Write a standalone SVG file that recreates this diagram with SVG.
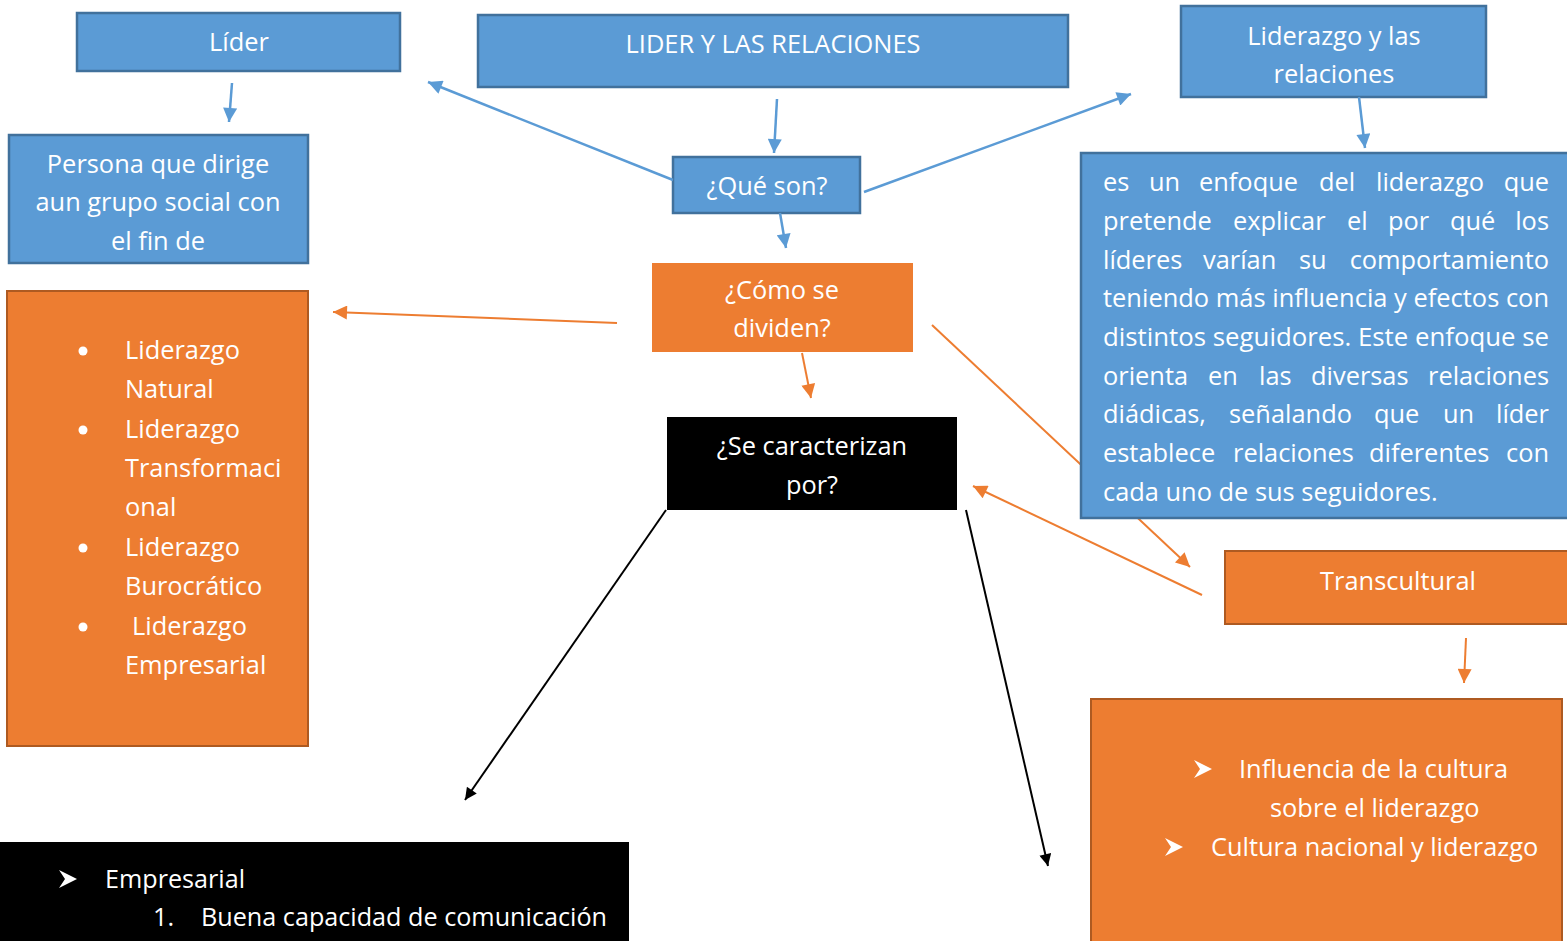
<svg xmlns="http://www.w3.org/2000/svg" width="1567" height="941" viewBox="0 0 1567 941">
<style>
.t{font-family:"Open Sans","Noto Sans","Liberation Sans",sans-serif;font-size:25.4px;fill:#fff}
.c{text-anchor:middle}
.blue{fill:#5B9BD5;stroke:#41719C;stroke-width:2.5}
.orange{fill:#ED7D31;stroke:#AE5A21;stroke-width:2}
.black{fill:#000}
.cb{stroke:#5B9BD5;stroke-width:2.5;fill:none;marker-end:url(#ab)}
.co{stroke:#ED7D31;stroke-width:2;fill:none;marker-end:url(#ao)}
.ck{stroke:#000;stroke-width:2;fill:none;marker-end:url(#ak)}
</style>
<defs>
<marker id="ab" viewBox="0 0 10 10" refX="10" refY="5" markerWidth="16" markerHeight="14" markerUnits="userSpaceOnUse" orient="auto"><path d="M0,0 L10,5 L0,10 Z" fill="#5B9BD5"/></marker>
<marker id="ao" viewBox="0 0 10 10" refX="10" refY="5" markerWidth="16" markerHeight="14" markerUnits="userSpaceOnUse" orient="auto"><path d="M0,0 L10,5 L0,10 Z" fill="#ED7D31"/></marker>
<marker id="ak" viewBox="0 0 10 10" refX="10" refY="5" markerWidth="16" markerHeight="12" markerUnits="userSpaceOnUse" orient="auto"><path d="M0,0 L10,5 L0,10 Z" fill="#000"/></marker>
</defs>
<rect width="1567" height="941" fill="#fff"/>

<g id="connectors-back">
<line class="co" x1="932" y1="325" x2="1190" y2="567"/>
</g>

<g id="n-lider"><rect class="blue" x="77" y="13" width="323" height="58"/><text class="t c" x="239" y="51">Líder</text></g>
<g id="n-main"><rect class="blue" x="478" y="15" width="590" height="72"/><text class="t c" x="773" y="53">LIDER Y LAS RELACIONES</text></g>
<g id="n-lr"><rect class="blue" x="1181" y="6" width="305" height="91"/><text class="t c" x="1334" y="45">Liderazgo y las</text><text class="t c" x="1334" y="83">relaciones</text></g>
<g id="n-persona"><rect class="blue" x="9" y="135" width="299" height="128"/><text class="t c" x="158" y="173">Persona que dirige</text><text class="t c" x="158" y="211">aun grupo social con</text><text class="t c" x="158" y="250">el fin de</text></g>
<g id="n-que"><rect class="blue" x="673" y="157" width="187" height="56"/><text class="t c" x="767" y="195">¿Qué son?</text></g>
<g id="n-def"><rect class="blue" x="1081" y="153" width="490" height="365"/>
<text class="t" y="191"><tspan x="1103">es</tspan><tspan x="1149">un</tspan><tspan x="1199">enfoque</tspan><tspan x="1319">del</tspan><tspan x="1376">liderazgo</tspan><tspan x="1549" text-anchor="end">que</tspan></text>
<text class="t" y="230"><tspan x="1103">pretende</tspan><tspan x="1233">explicar</tspan><tspan x="1347">el</tspan><tspan x="1388">por</tspan><tspan x="1450">qué</tspan><tspan x="1549" text-anchor="end">los</tspan></text>
<text class="t" y="269"><tspan x="1103">líderes</tspan><tspan x="1203">varían</tspan><tspan x="1299">su</tspan><tspan x="1549" text-anchor="end">comportamiento</tspan></text>
<text class="t" x="1103" y="307" textLength="446" lengthAdjust="spacingAndGlyphs">teniendo más influencia y efectos con</text>
<text class="t" x="1103" y="346" textLength="446" lengthAdjust="spacingAndGlyphs">distintos seguidores. Este enfoque se</text>
<text class="t" y="385"><tspan x="1103">orienta</tspan><tspan x="1208">en</tspan><tspan x="1259">las</tspan><tspan x="1311">diversas</tspan><tspan x="1549" text-anchor="end">relaciones</tspan></text>
<text class="t" y="423"><tspan x="1103">diádicas,</tspan><tspan x="1229">señalando</tspan><tspan x="1374">que</tspan><tspan x="1443">un</tspan><tspan x="1549" text-anchor="end">líder</tspan></text>
<text class="t" y="462"><tspan x="1103">establece</tspan><tspan x="1233">relaciones</tspan><tspan x="1369">diferentes</tspan><tspan x="1549" text-anchor="end">con</tspan></text>
<text class="t" x="1103" y="501">cada uno de sus seguidores.</text>
</g>
<g id="n-como"><rect x="652" y="263" width="261" height="89" fill="#ED7D31"/><text class="t c" x="782" y="299">¿Cómo se</text><text class="t c" x="782" y="337">dividen?</text></g>
<g id="n-carac"><rect class="black" x="667" y="417" width="290" height="93"/><text class="t c" x="812" y="455">¿Se caracterizan</text><text class="t c" x="812" y="494">por?</text></g>
<g id="n-tipos"><rect class="orange" x="7" y="291" width="301" height="455"/>
<circle cx="83" cy="351" r="4.5" fill="#fff"/><circle cx="83" cy="430" r="4.5" fill="#fff"/><circle cx="83" cy="548" r="4.5" fill="#fff"/><circle cx="83" cy="627" r="4.5" fill="#fff"/>
<text class="t" x="125" y="359">Liderazgo</text><text class="t" x="125" y="398">Natural</text>
<text class="t" x="125" y="438">Liderazgo</text><text class="t" x="125" y="477">Transformaci</text><text class="t" x="125" y="516">onal</text>
<text class="t" x="125" y="556">Liderazgo</text><text class="t" x="125" y="595">Burocrático</text>
<text class="t" x="132" y="635">Liderazgo</text><text class="t" x="125" y="674">Empresarial</text>
</g>
<g id="n-trans"><rect class="orange" x="1225" y="551" width="345" height="73"/><text class="t c" x="1398" y="590">Transcultural</text></g>
<g id="n-cultura"><rect class="orange" x="1091" y="699" width="471" height="243"/>
<path d="M1194,760 L1212,769 L1194,778 L1200,769 Z" fill="#fff"/>
<path d="M1165,838 L1183,847 L1165,856 L1171,847 Z" fill="#fff"/>
<text class="t" x="1239" y="778">Influencia de la cultura</text>
<text class="t" x="1270" y="817">sobre el liderazgo</text>
<text class="t" x="1211" y="856">Cultura nacional y liderazgo</text>
</g>
<g id="n-empresarial"><rect class="black" x="0" y="842" width="629" height="100"/>
<path d="M59,870 L77,879 L59,888 L65,879 Z" fill="#fff"/>
<text class="t" x="105" y="888" textLength="140" lengthAdjust="spacingAndGlyphs">Empresarial</text>
<text class="t" x="153" y="926">1.</text>
<text class="t" x="201" y="926" textLength="406" lengthAdjust="spacingAndGlyphs">Buena capacidad de comunicación</text>
</g>

<g id="connectors">
<line class="cb" x1="232" y1="83" x2="229" y2="122"/>
<line class="cb" x1="777" y1="99" x2="774" y2="153"/>
<line class="cb" x1="673" y1="180" x2="428" y2="82"/>
<line class="cb" x1="864" y1="192" x2="1131" y2="94"/>
<line class="cb" x1="1359" y1="97" x2="1365" y2="148"/>
<line class="cb" x1="780" y1="213" x2="786" y2="248"/>
<line class="co" x1="617" y1="323" x2="333" y2="312"/>
<line class="co" x1="802" y1="353" x2="811" y2="398"/>
<line class="co" x1="1202" y1="595" x2="973" y2="486"/>
<line class="co" x1="1466" y1="638" x2="1464" y2="683"/>
<line class="ck" x1="666" y1="510" x2="465" y2="800"/>
<line class="ck" x1="966" y1="510" x2="1048" y2="866"/>
</g>
</svg>
